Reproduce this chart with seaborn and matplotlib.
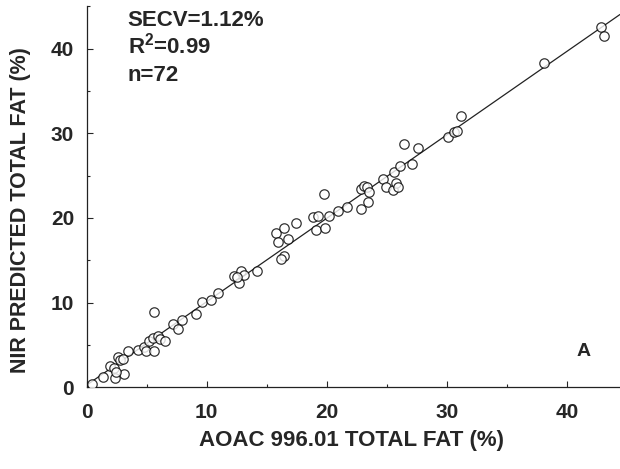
import matplotlib
matplotlib.use("Agg")
import matplotlib.pyplot as plt
from matplotlib.ticker import MultipleLocator
import seaborn as sns
import pandas as pd

# AOAC 996.01 reference values (%)
aoac = [0.48, 1.40, 1.93, 2.26, 2.32, 2.62, 2.76, 3.07, 3.46, 4.30,
        4.80, 4.95, 5.60, 5.57, 5.21, 5.49, 5.90, 6.10, 6.55, 7.21,
        7.57, 7.91, 9.13, 9.57, 10.38, 10.93, 12.27, 12.83, 12.64, 13.10,
        14.14, 16.39, 16.16, 15.75, 15.89, 16.44, 16.72, 17.41, 18.81, 19.22,
        19.08, 19.86, 20.19, 19.78, 20.94, 21.67, 22.84, 23.44, 22.84, 23.06,
        23.34, 23.53, 24.65, 24.92, 25.48, 25.75, 25.90, 25.56, 26.11, 27.06,
        26.45, 27.56, 30.04, 30.62, 30.84, 31.18, 38.04, 42.79, 43.08,
        2.40, 3.00, 12.50]
# NIR predicted values (%)
nir = [0.41, 1.20, 2.57, 2.27, 1.09, 3.57, 3.25, 1.59, 4.34, 4.43,
       4.70, 4.30, 4.34, 8.91, 5.41, 5.81, 6.00, 5.73, 5.41, 7.50,
       6.90, 7.97, 8.68, 10.06, 10.33, 11.12, 13.16, 13.79, 12.30, 13.28,
       13.79, 15.53, 15.14, 18.20, 17.10, 18.80, 17.50, 19.40, 20.10, 20.20,
       18.60, 18.80, 20.20, 22.80, 20.80, 21.30, 21.00, 21.90, 23.40, 23.80,
       23.60, 23.10, 24.60, 23.60, 23.30, 24.10, 23.60, 25.40, 26.10, 26.40,
       28.70, 28.20, 29.60, 30.10, 30.30, 32.00, 38.30, 42.60, 41.50,
       1.80, 3.40, 13.00]

x_ticks = [0, 10, 20, 30, 40]
y_ticks = [0, 10, 20, 30, 40]
stats_lines = ["SECV=1.12%", r"R$^{\mathbf{2}}$=0.99", "n=72"]
panel_label = "A"
x_label = "AOAC 996.01 TOTAL FAT (%)"
y_label = "NIR PREDICTED TOTAL FAT (%)"

df = pd.DataFrame({"aoac": aoac, "nir": nir})

sns.set_style("ticks")
plt.rcParams["font.family"] = ["Liberation Sans", "DejaVu Sans"]
plt.rcParams["font.weight"] = "bold"
plt.rcParams["mathtext.fontset"] = "custom"
plt.rcParams["mathtext.rm"] = "Liberation Sans:bold"
plt.rcParams["mathtext.bf"] = "Liberation Sans:bold"
plt.rcParams["mathtext.default"] = "bf"

fig = plt.figure(figsize=(6.2, 4.69), dpi=100)
ax = fig.add_axes([0.1398, 0.1742, 0.8602, 0.8126])
ax.set_xlim(0, 44.4)
ax.set_ylim(0, 45)

sns.regplot(data=df, x="aoac", y="nir", ax=ax, ci=None, truncate=False,
            scatter_kws=dict(s=46, facecolors="white", edgecolors="black",
                             linewidths=0.9, zorder=3),
            line_kws=dict(color="#222222", lw=0.9, zorder=2))
ax.set_xlim(0, 44.4)
ax.set_ylim(0, 45)

ax.set_xticks(x_ticks)
ax.set_yticks(y_ticks)
ax.xaxis.set_minor_locator(MultipleLocator(5))
ax.yaxis.set_minor_locator(MultipleLocator(5))
ax.tick_params(which="major", direction="in", length=4, width=0.8, labelsize=15)
ax.tick_params(axis="x", which="major", pad=11)
ax.tick_params(axis="y", which="major", pad=9)
ax.tick_params(which="minor", direction="in", length=2.5, width=0.8)
for lab in ax.get_xticklabels() + ax.get_yticklabels():
    lab.set_fontweight("bold")

ax.set_xlabel(x_label, fontsize=16, fontweight="bold")
ax.set_ylabel(y_label, fontsize=15.5, fontweight="bold")
ax.xaxis.set_label_coords(0.497, -0.14)
ax.yaxis.set_label_coords(-0.125, 0.465)
ax.xaxis.label.set_va("center")
ax.yaxis.label.set_va("center")

sns.despine(ax=ax)
for sp in ("left", "bottom"):
    ax.spines[sp].set_linewidth(0.9)
    ax.spines[sp].set_color("#222222")

for txt, yy in zip(stats_lines, [42.7, 39.4, 36.2]):
    ax.text(3.4, yy, txt, fontsize=16, fontweight="bold", va="baseline", ha="left")
ax.text(41.4, 4.2, panel_label, fontsize=14, fontweight="bold", va="center", ha="center")

fig.savefig("out.png", dpi=100)
